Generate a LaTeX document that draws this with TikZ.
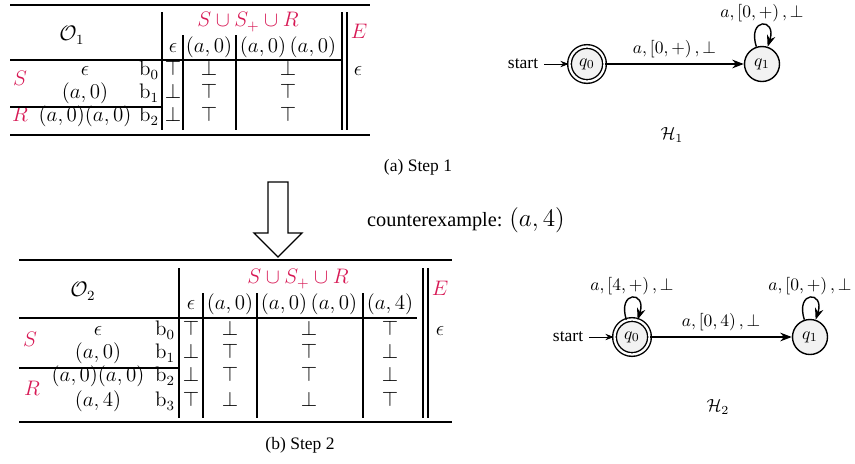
\documentclass[tikz,border=0pt]{standalone}
\usepackage{amsmath,amssymb}
\usepackage[no-math]{fontspec}
\setmainfont{Liberation Serif}
\usepackage{tikz}
\usetikzlibrary{automata,arrows.meta,positioning}
\DeclareMathAlphabet{\mathbbl}{U}{bbold}{m}{n}
\definecolor{setred}{RGB}{215,25,85}

\begin{document}
\begin{tikzpicture}[x=0.5714pt,y=-0.5714pt,>={Stealth},
	cell/.style={inner sep=0pt,text height=7pt,text depth=2.5pt,font=\fontsize{11.5}{13}\selectfont},
	hdr/.style={cell,text=setred},
	toprule/.style={line width=1.6pt},
	midrule/.style={line width=1.1pt},
	vline/.style={line width=0.9pt},
	every state/.style={draw,thick,fill=gray!10,minimum size=20pt,inner sep=0pt},
	accepting/.style={double,double distance=1.3pt},
	selfloop/.style={out=108,in=72,looseness=7},
	looplabel/.style={above,inner sep=1.5pt},
	initial text=start,initial distance=14pt]

	\useasboundingbox (0,0) rectangle (855,463);

	% step 1: table
	\node[cell] (o1) at (72,37) {$\mathcal{O}_1$};
	\node[hdr] (set1) at (248,23) {$S \cup S_{+} \cup R$};
	\node[hdr] (e1) at (359,35) {$E$};
	\node[cell] (h1a) at (173,49) {$\epsilon$};
	\node[cell] (h1b) at (209,49) {$(a,0)$};
	\node[cell] (h1c) at (288,49) {$(a,0)\,(a,0)$};
	\node[hdr] (s1) at (20,82) {$S$};
	\node[hdr] (r1) at (20,118) {$R$};
	\foreach \y/\w/\u/\v/\s [count=\i from 0] in
		{72/\epsilon/\top/\bot/\bot, 95/{(a,0)}/\bot/\top/\top, 118/{(a,0)(a,0)}/\bot/\top/\top} {
		\node[cell] (w1\i) at (85,\y) {$\w$};
		\node[cell] (b1\i) at (149,\y) {$\mathbbl{b}_\i$};
		\node[cell] (x1\i) at (173,\y) {$\u$};
		\node[cell] (y1\i) at (209,\y) {$\v$};
		\node[cell] (z1\i) at (288,\y) {$\s$};
	}
	\node[cell] (ee1) at (358,72) {$\epsilon$};

	\draw[toprule] (10,5) -- (370,5);
	\draw[toprule] (10,135) -- (370,135);
	\draw[midrule] (10,60) -- (343,60);
	\draw[midrule] (10,107) -- (162,107);
	\draw[vline] (162,12) -- (162,130);
	\draw[vline] (183,35) -- (183,130);
	\draw[vline] (236,35) -- (236,130);
	\draw[vline] (342,12) -- (342,130);
	\draw[vline] (347,12) -- (347,130);

	% step 1: automaton
	\node[state,initial,accepting] (q0) at (587,64) {$q_0$};
	\node[state] (q1) at (762,64) {$q_1$};
	\draw[->,thick] (q0) edge node[above] {$a, \left[0, +\right), \bot$} (q1);
	\draw[->,thick] (q1) to[selfloop] node[looplabel] {$a, \left[0, +\right), \bot$} (q1);
	\node (hyp1) at (672,135) {$\mathcal{H}_1$};

	\node (capa) at (418,167) {(a) Step 1};

	% counterexample
	\draw[thick] (268,182) -- (288,182) -- (288,233) -- (302,233) -- (278,257)
		-- (254,233) -- (268,233) -- cycle;
	\node[font=\fontsize{11.6}{14}\selectfont] (cex) at (466,220) {counterexample: {\Large$(a,4)$}};

	% step 2: table
	\node[cell] (o2) at (83,293) {$\mathcal{O}_2$};
	\node[hdr] (set2) at (298,280) {$S \cup S_{+} \cup R$};
	\node[hdr] (e2) at (440,292) {$E$};
	\node[cell] (h2a) at (191,306) {$\epsilon$};
	\node[cell] (h2b) at (230,306) {$(a,0)$};
	\node[cell] (h2c) at (309,306) {$(a,0)\,(a,0)$};
	\node[cell] (h2d) at (390,306) {$(a,4)$};
	\node[hdr] (s2) at (30,343) {$S$};
	\node[hdr] (r2) at (32,392) {$R$};
	\foreach \y/\w/\u/\v/\s/\t [count=\i from 0] in
		{332/\epsilon/\top/\bot/\bot/\top, 355/{(a,0)}/\bot/\top/\top/\bot,
		 378/{(a,0)(a,0)}/\bot/\top/\top/\bot, 403/{(a,4)}/\top/\bot/\bot/\top} {
		\node[cell] (w2\i) at (98,\y) {$\w$};
		\node[cell] (b2\i) at (165,\y) {$\mathbbl{b}_\i$};
		\node[cell] (x2\i) at (191,\y) {$\u$};
		\node[cell] (y2\i) at (230,\y) {$\v$};
		\node[cell] (z2\i) at (309,\y) {$\s$};
		\node[cell] (v2\i) at (390,\y) {$\t$};
	}
	\node[cell] (ee2) at (440,332) {$\epsilon$};

	\draw[toprule] (19,260) -- (452,260);
	\draw[toprule] (19,422) -- (452,422);
	\draw[midrule] (19,318) -- (417,318);
	\draw[midrule] (19,368) -- (178,368);
	\draw[vline] (179,268) -- (179,418);
	\draw[vline] (203,293) -- (203,418);
	\draw[vline] (257,293) -- (257,418);
	\draw[vline] (363,293) -- (363,418);
	\draw[vline] (423,268) -- (423,418);
	\draw[vline] (428,268) -- (428,418);

	% step 2: automaton
	\node[state,initial,accepting] (p0) at (632,337) {$q_0$};
	\node[state] (p1) at (810,337) {$q_1$};
	\draw[->,thick] (p0) edge node[above] {$a, \left[0, 4\right), \bot$} (p1);
	\draw[->,thick] (p0) to[selfloop] node[looplabel] {$a, \left[4, +\right), \bot$} (p0);
	\draw[->,thick] (p1) to[selfloop] node[looplabel] {$a, \left[0, +\right), \bot$} (p1);
	\node (hyp2) at (718,407) {$\mathcal{H}_2$};

	\node (capb) at (300,445) {(b) Step 2};

\end{tikzpicture}
\end{document}
